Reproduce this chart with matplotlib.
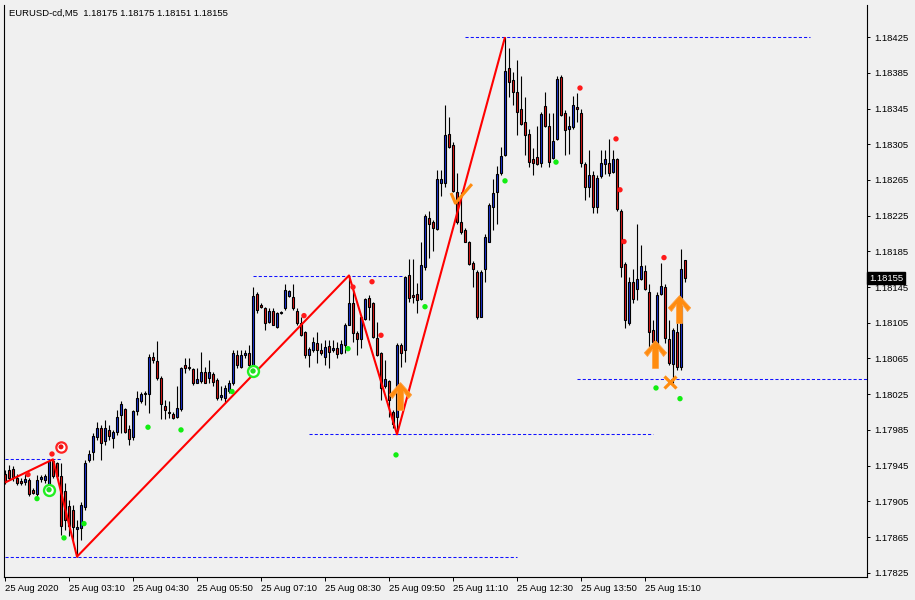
import matplotlib
matplotlib.use('Agg')
import matplotlib.pyplot as plt
import matplotlib.transforms as mtransforms
from matplotlib.path import Path
import numpy as np
import pandas as pd

# ---------------- data ----------------
symbol_header = "EURUSD-cd,M5  1.18175 1.18175 1.18151 1.18155"
start_time = "2020-08-25 01:50"

opens = [
    1.17936, 1.17940, 1.17941, 1.17931, 1.17928, 1.17927, 1.17929, 1.17918, 1.17913, 1.17930,
    1.17929, 1.17923, 1.17950, 1.17948, 1.17933, 1.17917, 1.17900, 1.17895, 1.17874, 1.17875,
    1.17899, 1.17951, 1.17960, 1.17977, 1.17987, 1.17972, 1.17985, 1.17976, 1.17983, 1.18002,
    1.18008, 1.17986, 1.17977, 1.18006, 1.18017, 1.18025, 1.18025, 1.18067, 1.18062, 1.18043,
    1.18012, 1.18005, 1.18003, 1.18000, 1.18008, 1.18058, 1.18056, 1.18053, 1.18038, 1.18040,
    1.18050, 1.18043, 1.18048, 1.18041, 1.18022, 1.18021, 1.18029, 1.18038, 1.18069, 1.18056,
    1.18069, 1.18071, 1.18056, 1.18137, 1.18125, 1.18121, 1.18106, 1.18118, 1.18100, 1.18116,
    1.18121, 1.18135, 1.18134, 1.18118, 1.18105, 1.18095, 1.18069, 1.18074, 1.18082, 1.18074,
    1.18067, 1.18079, 1.18074, 1.18077, 1.18071, 1.18080, 1.18103, 1.18127, 1.18094, 1.18087,
    1.18109, 1.18133, 1.18127, 1.18088, 1.18071, 1.18034, 1.18040, 1.18005, 1.18000, 1.18080,
    1.18075, 1.18159, 1.18136, 1.18137, 1.18132, 1.18167, 1.18222, 1.18218, 1.18210, 1.18262,
    1.18262, 1.18316, 1.18304, 1.18252, 1.18218, 1.18209, 1.18195, 1.18172, 1.18162, 1.18112,
    1.18165, 1.18196, 1.18235, 1.18251, 1.18273, 1.18293, 1.18390, 1.18377, 1.18363, 1.18345,
    1.18330, 1.18317, 1.18288, 1.18291, 1.18284, 1.18348, 1.18325, 1.18290, 1.18311, 1.18380,
    1.18340, 1.18322, 1.18324, 1.18347, 1.18340, 1.18283, 1.18257, 1.18271, 1.18235, 1.18269,
    1.18283, 1.18284, 1.18274, 1.18289, 1.18230, 1.18171, 1.18105, 1.18151, 1.18143, 1.18154,
    1.18163, 1.18140, 1.18097, 1.18078, 1.18137, 1.18145, 1.18087, 1.18059, 1.18095, 1.18056,
    1.18175,
]
highs = [
    1.17940, 1.17946, 1.17945, 1.17936, 1.17931, 1.17936, 1.17931, 1.17920, 1.17935, 1.17935,
    1.17936, 1.17949, 1.17952, 1.17949, 1.17948, 1.17926, 1.17907, 1.17901, 1.17884, 1.17904,
    1.17951, 1.17963, 1.17982, 1.17994, 1.17991, 1.17996, 1.17991, 1.17985, 1.18007, 1.18017,
    1.18010, 1.17991, 1.18007, 1.18029, 1.18028, 1.18029, 1.18070, 1.18072, 1.18085, 1.18045,
    1.18019, 1.18017, 1.18005, 1.18034, 1.18056, 1.18066, 1.18066, 1.18054, 1.18054, 1.18072,
    1.18056, 1.18063, 1.18050, 1.18043, 1.18034, 1.18035, 1.18041, 1.18075, 1.18075, 1.18075,
    1.18074, 1.18080, 1.18145, 1.18140, 1.18127, 1.18123, 1.18121, 1.18121, 1.18117, 1.18118,
    1.18148, 1.18142, 1.18149, 1.18121, 1.18112, 1.18096, 1.18078, 1.18089, 1.18095, 1.18082,
    1.18086, 1.18086, 1.18086, 1.18084, 1.18086, 1.18105, 1.18158, 1.18143, 1.18096, 1.18114,
    1.18133, 1.18136, 1.18128, 1.18106, 1.18072, 1.18063, 1.18041, 1.18007, 1.18082, 1.18082,
    1.18157, 1.18177, 1.18177, 1.18150, 1.18195, 1.18227, 1.18230, 1.18220, 1.18276, 1.18276,
    1.18349, 1.18335, 1.18307, 1.18273, 1.18252, 1.18211, 1.18197, 1.18174, 1.18164, 1.18164,
    1.18204, 1.18239, 1.18266, 1.18281, 1.18302, 1.18425, 1.18413, 1.18386, 1.18399, 1.18381,
    1.18358, 1.18322, 1.18301, 1.18326, 1.18341, 1.18364, 1.18340, 1.18340, 1.18381, 1.18383,
    1.18343, 1.18337, 1.18359, 1.18362, 1.18344, 1.18285, 1.18298, 1.18275, 1.18270, 1.18299,
    1.18299, 1.18311, 1.18298, 1.18290, 1.18233, 1.18173, 1.18156, 1.18165, 1.18216, 1.18192,
    1.18170, 1.18149, 1.18108, 1.18139, 1.18172, 1.18149, 1.18108, 1.18099, 1.18108, 1.18188,
    1.18175,
]
lows = [
    1.17924, 1.17929, 1.17928, 1.17923, 1.17923, 1.17923, 1.17911, 1.17913, 1.17911, 1.17927,
    1.17926, 1.17922, 1.17931, 1.17931, 1.17867, 1.17873, 1.17866, 1.17862, 1.17843, 1.17862,
    1.17895, 1.17949, 1.17951, 1.17974, 1.17951, 1.17968, 1.17974, 1.17965, 1.17979, 1.17982,
    1.17982, 1.17968, 1.17974, 1.18002, 1.18015, 1.18013, 1.18004, 1.18060, 1.18041, 1.17997,
    1.17997, 1.17998, 1.17997, 1.17998, 1.18006, 1.18049, 1.18052, 1.18035, 1.18037, 1.18038,
    1.18037, 1.18038, 1.18034, 1.18019, 1.18019, 1.18016, 1.18026, 1.18035, 1.18054, 1.18054,
    1.18066, 1.18056, 1.18054, 1.18116, 1.18121, 1.18097, 1.18105, 1.18102, 1.18099, 1.18115,
    1.18119, 1.18134, 1.18119, 1.18103, 1.18090, 1.18066, 1.18056, 1.18072, 1.18060, 1.18069,
    1.18058, 1.18054, 1.18072, 1.18066, 1.18070, 1.18071, 1.18102, 1.18084, 1.18069, 1.18077,
    1.18108, 1.18108, 1.18088, 1.18068, 1.18018, 1.18032, 1.18000, 1.17987, 1.17980, 1.18056,
    1.18061, 1.18128, 1.18127, 1.18116, 1.18131, 1.18164, 1.18178, 1.18185, 1.18209, 1.18247,
    1.18257, 1.18301, 1.18252, 1.18216, 1.18205, 1.18195, 1.18170, 1.18145, 1.18109, 1.18111,
    1.18151, 1.18195, 1.18209, 1.18216, 1.18271, 1.18292, 1.18358, 1.18349, 1.18315, 1.18327,
    1.18293, 1.18280, 1.18271, 1.18282, 1.18279, 1.18324, 1.18280, 1.18289, 1.18310, 1.18337,
    1.18293, 1.18294, 1.18322, 1.18330, 1.18279, 1.18242, 1.18246, 1.18228, 1.18228, 1.18267,
    1.18272, 1.18269, 1.18273, 1.18230, 1.18156, 1.18099, 1.18102, 1.18127, 1.18130, 1.18153,
    1.18142, 1.18078, 1.18082, 1.18075, 1.18136, 1.18082, 1.18058, 1.18038, 1.18052, 1.18052,
    1.18151,
]
closes = [
    1.17928, 1.17931, 1.17932, 1.17926, 1.17926, 1.17930, 1.17913, 1.17914, 1.17929, 1.17932,
    1.17933, 1.17950, 1.17933, 1.17933, 1.17877, 1.17884, 1.17877, 1.17876, 1.17876, 1.17901,
    1.17948, 1.17958, 1.17978, 1.17987, 1.17970, 1.17987, 1.17978, 1.17983, 1.18000, 1.18014,
    1.17983, 1.17975, 1.18006, 1.18021, 1.18025, 1.18026, 1.18067, 1.18063, 1.18043, 1.18014,
    1.18007, 1.18004, 1.17998, 1.18010, 1.18054, 1.18054, 1.18054, 1.18037, 1.18042, 1.18050,
    1.18038, 1.18050, 1.18039, 1.18021, 1.18024, 1.18032, 1.18038, 1.18071, 1.18058, 1.18069,
    1.18071, 1.18058, 1.18135, 1.18119, 1.18123, 1.18105, 1.18118, 1.18103, 1.18116, 1.18117,
    1.18142, 1.18141, 1.18121, 1.18105, 1.18091, 1.18069, 1.18076, 1.18084, 1.18075, 1.18071,
    1.18078, 1.18072, 1.18077, 1.18070, 1.18081, 1.18103, 1.18127, 1.18093, 1.18087, 1.18112,
    1.18132, 1.18123, 1.18089, 1.18069, 1.18032, 1.18042, 1.18018, 1.17992, 1.18080, 1.18071,
    1.18156, 1.18133, 1.18134, 1.18130, 1.18170, 1.18225, 1.18216, 1.18211, 1.18266, 1.18266,
    1.18315, 1.18302, 1.18253, 1.18218, 1.18207, 1.18196, 1.18171, 1.18165, 1.18111, 1.18162,
    1.18201, 1.18237, 1.18250, 1.18272, 1.18292, 1.18387, 1.18375, 1.18363, 1.18341, 1.18328,
    1.18315, 1.18285, 1.18284, 1.18283, 1.18339, 1.18325, 1.18285, 1.18309, 1.18378, 1.18338,
    1.18321, 1.18326, 1.18349, 1.18345, 1.18284, 1.18257, 1.18270, 1.18235, 1.18267, 1.18284,
    1.18288, 1.18273, 1.18288, 1.18232, 1.18167, 1.18108, 1.18151, 1.18132, 1.18154, 1.18169,
    1.18143, 1.18095, 1.18084, 1.18136, 1.18146, 1.18088, 1.18060, 1.18097, 1.18056, 1.18165,
    1.18155,
]

# zigzag vertices (bar index, price)
zigzag_bar = [0, 12, 18, 86, 98, 125]
zigzag_price = [1.17926, 1.17952, 1.17843, 1.18158, 1.17980, 1.18425]

# dashed level lines
level_price = [1.17952, 1.17843, 1.18157, 1.17980, 1.18425, 1.18042]
level_from = [0, 0, 62, 76, 115, 143]
level_to = [14.25, 128, 99.75, 162, 201.25, 215.5]

# indicator dots
green_bar = [8, 14.75, 19.75, 35.75, 44, 56.75, 85.75, 97.75, 105, 125, 137.75, 162.75, 168.75]
green_price = [1.17908, 1.17864, 1.17880, 1.17988, 1.17985, 1.18028, 1.18076, 1.17957,
               1.18123, 1.18264, 1.18285, 1.18032, 1.18020]
red_bar = [5.75, 11.75, 74.75, 87, 91.75, 94, 143.75, 152.75, 153.75, 154.75, 164.75]
red_price = [1.17935, 1.17958, 1.18113, 1.18145, 1.18151, 1.18091, 1.18368, 1.18311,
             1.18254, 1.18196, 1.18178]

# ring signals
green_ring_bar = [11, 62]
green_ring_price = [1.17918, 1.18051]
red_ring_bar = [14]
red_ring_price = [1.17966]

# orange signals
arrow_bar = [98.75, 162.6, 168.6]
arrow_price = [1.18023, 1.18070, 1.18120]
check_bar = [113.9]
check_price = [1.18250]
cross_bar = [166.25]
cross_price = [1.18039]

yticks = [1.17825, 1.17865, 1.17905, 1.17945, 1.17985, 1.18025, 1.18065, 1.18105,
          1.18145, 1.18185, 1.18225, 1.18265, 1.18305, 1.18345, 1.18385, 1.18425]
last_price = 1.18155

# ---------------- drawing ----------------
W, H = 915, 600
BG = '#f0f0f0'
FONT = 'Liberation Sans'
plt.rcParams['font.family'] = [FONT, 'DejaVu Sans']

fig = plt.figure(figsize=(W / 100, H / 100), dpi=100, facecolor=BG)
ax = fig.add_axes([4 / W, 23 / H, 863 / W, 572 / H], facecolor=BG)

o = np.array(opens); h = np.array(highs); l = np.array(lows); c = np.array(closes)
x = np.arange(len(o))
times = pd.date_range(start_time, periods=len(o), freq='5min')

up = c >= o
BULL = '#1c34d8'
BEAR = '#e01818'

# dashed levels
for p, a, b in zip(level_price, level_from, level_to):
    ax.plot([a, b], [p, p], color='#1010ff', lw=0.75, ls=(0, (3, 2)), zorder=1)

# candles
ax.vlines(x, l, h, color='black', lw=0.8, zorder=2)
body_lo = np.minimum(o, c)
body_h = np.maximum(np.abs(c - o), 0.000008)
ax.bar(x, body_h, bottom=body_lo, width=0.55,
       color=np.where(up, BULL, BEAR), edgecolor='black', linewidth=0.8, zorder=3)

# zigzag
ax.plot(zigzag_bar, zigzag_price, color='#ff0000', lw=1.5, zorder=4, solid_capstyle='butt')

# dots
ax.scatter(green_bar, green_price, s=15, color='#12ee12', edgecolors='none', zorder=5)
ax.scatter(red_bar, red_price, s=15, color='#ff1a1a', edgecolors='none', zorder=5)

# rings
ax.scatter(green_ring_bar, green_ring_price, s=62, facecolor='white',
           edgecolors='#22ee22', linewidths=1.7, zorder=6)
ax.scatter(green_ring_bar, green_ring_price, s=15, color='#22dd22', edgecolors='none', zorder=7)
ax.scatter(red_ring_bar, red_ring_price, s=55, facecolor='white',
           edgecolors='#ff2222', linewidths=1.6, zorder=6)
ax.scatter(red_ring_bar, red_ring_price, s=13, color='#ee1111', edgecolors='none', zorder=7)

# orange arrows
ORANGE = '#ff8c10'
arrow_path = Path([(0, 1), (0.8, 0.12), (0.58, -0.14), (0.21, 0.36), (0.21, -1),
                   (-0.21, -1), (-0.21, 0.36), (-0.58, -0.14), (-0.8, 0.12), (0, 1)],
                  [Path.MOVETO] + [Path.LINETO] * 8 + [Path.CLOSEPOLY])
ax.plot(arrow_bar, arrow_price, ls='none', marker=arrow_path, markersize=20,
        markerfacecolor=ORANGE, markeredgecolor='#ffa040', markeredgewidth=0.6, zorder=8)

check_path = Path([(-1, 0.05), (-0.59, -0.93), (1, 0.9)], [Path.MOVETO, Path.LINETO, Path.LINETO])
ax.plot(check_bar, check_price, ls='none', marker=check_path, markersize=15,
        markerfacecolor='none', markeredgecolor=ORANGE, markeredgewidth=2.2, zorder=8)
ax.plot(cross_bar, cross_price, ls='none', marker='x', markersize=9,
        markeredgecolor=ORANGE, markeredgewidth=2.3, zorder=8)

# axes limits
ax.set_xlim(-0.25, 215.5)
ax.set_ylim(1.178202, 1.18461)

# spines
for s in ['left', 'bottom', 'right']:
    ax.spines[s].set_color('black')
    ax.spines[s].set_linewidth(0.8)
ax.spines['top'].set_visible(False)

# y axis on right
ax.yaxis.tick_right()
ax.set_yticks(yticks)
ax.set_yticklabels([f'{v:.5f}' for v in yticks])
ax.tick_params(axis='y', which='both', direction='out', length=2.5, width=0.7,
               pad=3, labelsize=6.8, colors='black', left=False)

# x axis
tick_idx = list(range(0, len(o), 16))
tick_lbl = ['25 Aug 2020' if i == 0 else times[i].strftime('%d %b %H:%M') for i in tick_idx]
ax.set_xticks(tick_idx)
ax.set_xticklabels(tick_lbl, ha='left')
ax.tick_params(axis='x', direction='out', length=3, width=0.7, pad=2,
               labelsize=6.8, colors='black')

# current price label
trans = mtransforms.blended_transform_factory(ax.transAxes, ax.transData)
ax.text(1.0025, last_price, f'{last_price:.5f}', transform=trans, ha='left', va='center',
        fontsize=6.8, color='white', zorder=10, clip_on=False,
        bbox=dict(boxstyle='square,pad=0.18', facecolor='black', edgecolor='black'))

# header
fig.text(9 / W, 1 - 13 / H, symbol_header, ha='left', va='center', fontsize=6.8, color='black')

fig.savefig('out.png', dpi=100, facecolor=BG)
